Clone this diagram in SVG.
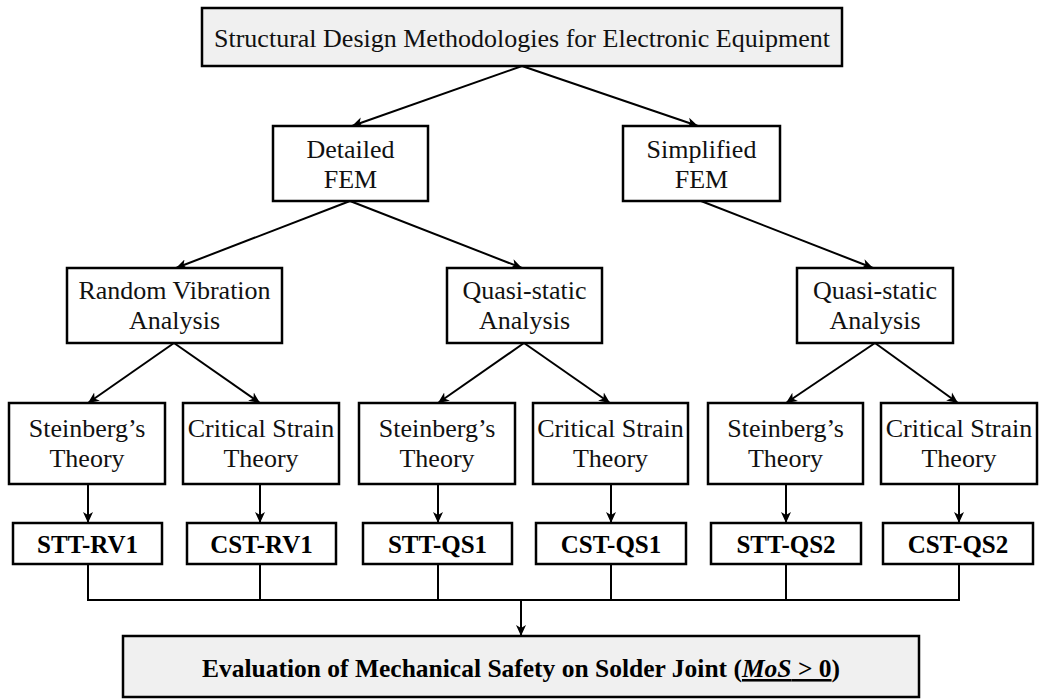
<svg xmlns="http://www.w3.org/2000/svg" width="1040" height="699" viewBox="0 0 1040 699">
<style>
.box{fill:#ffffff;stroke:#000;stroke-width:2.5}
.gbox{fill:#f0f0f0;stroke:#000;stroke-width:2.5}
.t{font-family:"Liberation Serif","Times New Roman",serif;font-size:26px;fill:#111;text-anchor:middle}
.b{font-family:"Liberation Serif","Times New Roman",serif;font-size:25px;font-weight:bold;fill:#000;text-anchor:middle}
.bb{font-family:"Liberation Serif","Times New Roman",serif;font-size:25.5px;font-weight:bold;fill:#000;text-anchor:middle}
.c{fill:none;stroke:#000;stroke-width:2}
</style>
<defs>
<marker id="ah" markerUnits="userSpaceOnUse" markerWidth="12" markerHeight="12" viewBox="0 0 12 12" refX="11" refY="6" orient="auto">
<path d="M0,1 L11,6 L0,11 L3,6 z" fill="#000"/>
</marker>
</defs>
<g id="connectors">
<line class="c" x1="522" y1="66" x2="352" y2="126" marker-end="url(#ah)"/>
<line class="c" x1="522" y1="66" x2="698" y2="126" marker-end="url(#ah)"/>
<line class="c" x1="350" y1="201" x2="176" y2="268" marker-end="url(#ah)"/>
<line class="c" x1="350" y1="201" x2="522" y2="268" marker-end="url(#ah)"/>
<line class="c" x1="701" y1="201" x2="873" y2="268" marker-end="url(#ah)"/>
<line class="c" x1="174" y1="343" x2="88" y2="403" marker-end="url(#ah)"/>
<line class="c" x1="174" y1="343" x2="260" y2="403" marker-end="url(#ah)"/>
<line class="c" x1="524" y1="343" x2="438" y2="403" marker-end="url(#ah)"/>
<line class="c" x1="524" y1="343" x2="610" y2="403" marker-end="url(#ah)"/>
<line class="c" x1="875" y1="343" x2="786" y2="403" marker-end="url(#ah)"/>
<line class="c" x1="875" y1="343" x2="958" y2="403" marker-end="url(#ah)"/>
<line class="c" x1="88" y1="484" x2="88" y2="523" marker-end="url(#ah)"/>
<line class="c" x1="260" y1="484" x2="260" y2="523" marker-end="url(#ah)"/>
<line class="c" x1="438" y1="484" x2="438" y2="523" marker-end="url(#ah)"/>
<line class="c" x1="611" y1="484" x2="611" y2="523" marker-end="url(#ah)"/>
<line class="c" x1="786" y1="484" x2="786" y2="523" marker-end="url(#ah)"/>
<line class="c" x1="959" y1="484" x2="959" y2="523" marker-end="url(#ah)"/>
<path class="c" d="M88,564 V600 M260,564 V600 M438,564 V600 M611,564 V600 M786,564 V600 M959,564 V600 M87,600 H960"/>
<line class="c" x1="521" y1="600" x2="521" y2="636" marker-end="url(#ah)"/>
</g>
<g id="top">
<rect class="gbox" x="202" y="8" width="640" height="58"/>
<text class="t" x="522" y="47">Structural Design Methodologies for Electronic Equipment</text>
</g>
<g id="detailed">
<rect class="box" x="273" y="126" width="155" height="75"/>
<text class="t" x="350.5" y="158">Detailed</text>
<text class="t" x="350.5" y="188">FEM</text>
</g>
<g id="simplified">
<rect class="box" x="623" y="126" width="157" height="75"/>
<text class="t" x="701.5" y="158">Simplified</text>
<text class="t" x="701.5" y="188">FEM</text>
</g>
<g id="random">
<rect class="box" x="67" y="268" width="215" height="75"/>
<text class="t" x="174.5" y="299">Random Vibration</text>
<text class="t" x="174.5" y="329">Analysis</text>
</g>
<g id="quasi1">
<rect class="box" x="447" y="268" width="155" height="75"/>
<text class="t" x="524.5" y="299">Quasi-static</text>
<text class="t" x="524.5" y="329">Analysis</text>
</g>
<g id="quasi2">
<rect class="box" x="797" y="268" width="156" height="75"/>
<text class="t" x="875" y="299">Quasi-static</text>
<text class="t" x="875" y="329">Analysis</text>
</g>
<g id="st1">
<rect class="box" x="9" y="403" width="156" height="81"/>
<text class="t" x="87" y="437">Steinberg’s</text>
<text class="t" x="87" y="467">Theory</text>
</g>
<g id="cs1">
<rect class="box" x="183" y="403" width="156" height="81"/>
<text class="t" x="261" y="437">Critical Strain</text>
<text class="t" x="261" y="467">Theory</text>
</g>
<g id="st2">
<rect class="box" x="359" y="403" width="156" height="81"/>
<text class="t" x="437" y="437">Steinberg’s</text>
<text class="t" x="437" y="467">Theory</text>
</g>
<g id="cs2">
<rect class="box" x="533" y="403" width="155" height="81"/>
<text class="t" x="610.5" y="437">Critical Strain</text>
<text class="t" x="610.5" y="467">Theory</text>
</g>
<g id="st3">
<rect class="box" x="708" y="403" width="155" height="81"/>
<text class="t" x="785.5" y="437">Steinberg’s</text>
<text class="t" x="785.5" y="467">Theory</text>
</g>
<g id="cs3">
<rect class="box" x="881" y="403" width="156" height="81"/>
<text class="t" x="959" y="437">Critical Strain</text>
<text class="t" x="959" y="467">Theory</text>
</g>
<g id="r1">
<rect class="box" x="13" y="523" width="149" height="41"/>
<text class="b" x="87.5" y="553">STT-RV1</text>
</g>
<g id="r2">
<rect class="box" x="187" y="523" width="149" height="41"/>
<text class="b" x="261.5" y="553">CST-RV1</text>
</g>
<g id="r3">
<rect class="box" x="363" y="523" width="149" height="41"/>
<text class="b" x="437.5" y="553">STT-QS1</text>
</g>
<g id="r4">
<rect class="box" x="536" y="523" width="150" height="41"/>
<text class="b" x="611" y="553">CST-QS1</text>
</g>
<g id="r5">
<rect class="box" x="711" y="523" width="150" height="41"/>
<text class="b" x="786" y="553">STT-QS2</text>
</g>
<g id="r6">
<rect class="box" x="883" y="523" width="150" height="41"/>
<text class="b" x="958" y="553">CST-QS2</text>
</g>
<g id="bottom">
<rect class="gbox" x="123" y="636" width="796" height="61"/>
<text class="bb" x="521" y="677">Evaluation of Mechanical Safety on Solder Joint (<tspan text-decoration="underline"><tspan font-style="italic">MoS</tspan> &gt; 0</tspan>)</text>
</g>
</svg>
